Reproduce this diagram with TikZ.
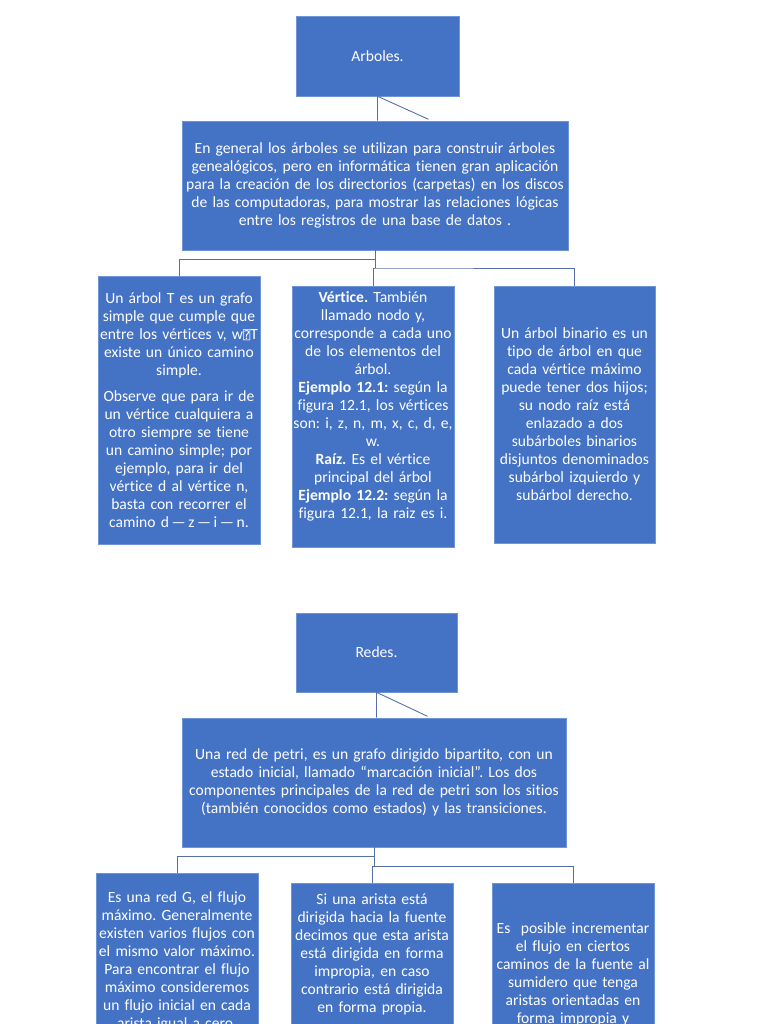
\documentclass[tikz,border=0pt]{standalone}
\usepackage{fontspec}
\setmainfont{Carlito}[Ligatures=NoCommon]
\newfontfamily\symfont{DejaVu Sans Mono}
\definecolor{boxblue}{HTML}{4472C4}
\definecolor{boxedge}{HTML}{6E95D6}
\definecolor{linkblue}{HTML}{5570A8}
\frenchspacing

\begin{document}
\begin{tikzpicture}[x=10pt,y=10pt]
        \tikzstyle{every node}+=[inner sep=0pt]
        \tikzstyle{box}=[draw=boxedge, line width=0.6pt, fill=boxblue, text=white, align=center, font=\fontsize{15.6}{18}\selectfont]
        \tikzstyle{link}=[linkblue, line width=0.9pt]
        \useasboundingbox (0,0) rectangle (76.8,-102.4);
        \clip (0,0) rectangle (76.8,-102.4);
        \node [box, minimum width=163pt, minimum height=80pt] (arb) at (37.75,-5.6) {Arboles.};
        \node [box, minimum width=386pt, minimum height=129pt, text width=384pt] (arbtxt) at (37.5,-18.55) {En general los árboles se utilizan para construir árboles\\ genealógicos, pero en informática tienen gran aplicación\\ para la creación de los directorios (carpetas) en los discos\\ de las computadoras, para mostrar las relaciones lógicas\\ entre los registros de una base de datos .};
        \node [box, minimum width=162pt, minimum height=268pt, text width=160pt] (a1) at (17.9,-41.0) {Un árbol T es un grafo\\ simple que cumple que\\ entre los vértices v, w{\symfont\fontsize{12}{18}\selectfont ⍰}T\\ existe un único camino\\ simple.\\[8pt] Observe que para ir de\\ un vértice cualquiera a\\ otro siempre se tiene\\ un camino simple; por\\ ejemplo, para ir del\\ vértice d al vértice n,\\ basta con recorrer el\\ camino d\,—\,z\,—\,i\,—\,n.};
        \node [box, minimum width=162pt, minimum height=261pt, text width=160pt] (a2) at (37.3,-41.65) {\textbf{Vértice.} También\\ llamado nodo y,\\ corresponde a cada uno\\ de los elementos del\\ árbol.\\ \textbf{Ejemplo 12.1:} según la\\ figura 12.1, los vértices\\ son: i, z, n, m, x, c, d, e,\\ w.\\ \textbf{Raíz.} Es el vértice\\ principal del árbol\\ \textbf{Ejemplo 12.2:} según la\\ figura 12.1, la raiz es i.\par\vspace*{21pt}};
        \node [box, minimum width=161pt, minimum height=257pt, text width=159pt] (a3) at (57.45,-41.45) {Un árbol binario es un\\ tipo de árbol en que\\ cada vértice máximo\\ puede tener dos hijos;\\ su nodo raíz está\\ enlazado a dos\\ subárboles binarios\\ disjuntos denominados\\ subárbol izquierdo y\\ subárbol derecho.};
        \draw [link] (arb.south |- arbtxt.north) -- (arb.south) -- ++(5.1,-2.3);
        \coordinate (aj) at (37.5,-26.8);
        \draw [link] (arbtxt.south) -- (aj);
        \draw [link] (arbtxt.south) ++(0,-0.95) -| (a1.north);
        \draw [link] (a2.north) |- (aj) -| (a3.north);
        \node [box, minimum width=161pt, minimum height=79pt] (red) at (37.65,-65.25) {Redes.};
        \node [box, minimum width=384pt, minimum height=129pt, text width=382pt] (redtxt) at (37.4,-78.25) {Una red de petri, es un grafo dirigido bipartito, con un\\ estado inicial, llamado “marcación inicial”. Los dos\\ componentes principales de la red de petri son los sitios\\ (también conocidos como estados) y las transiciones.};
        \node [box, minimum width=162pt, minimum height=176pt, text width=160pt] (r1) at (17.7,-96.1) {Es una red G, el flujo\\ máximo. Generalmente\\ existen varios flujos con\\ el mismo valor máximo.\\ Para encontrar el flujo\\ máximo consideremos\\ un flujo inicial en cada\\ arista igual a cero.};
        \node [box, minimum width=162pt, minimum height=142pt, text width=160pt] (r2) at (37.2,-95.4) {Si una arista está\\ dirigida hacia la fuente\\ decimos que esta arista\\ está dirigida en forma\\ impropia, en caso\\ contrario está dirigida\\ en forma propia.};
        \node [box, minimum width=162pt, minimum height=182pt, text width=160pt] (r3) at (57.3,-97.4) {Es~ posible incrementar\\ el flujo en ciertos\\ caminos de la fuente al\\ sumidero que tenga\\ aristas orientadas en\\ forma impropia y};
        \draw [link] (red.south |- redtxt.north) -- (red.south) -- ++(5.1,-2.4);
        \coordinate (rj) at (37.4,-86.6);
        \draw [link] (redtxt.south) -- (rj);
        \draw [link] (redtxt.south) ++(0,-0.9) -| (r1.north);
        \draw [link] (r2.north) |- (rj) -| (r3.north);
      \end{tikzpicture}
\end{document}
